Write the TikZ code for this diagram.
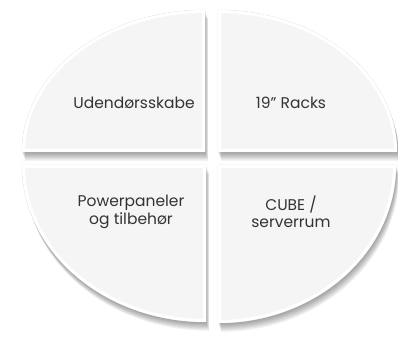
\documentclass[tikz,border=0pt]{standalone}
\usepackage{fontspec}
\setmainfont{Poppins}
\definecolor{pieceface}{HTML}{F5F5F5}
\definecolor{textgray}{HTML}{333333}
\begin{document}
\begin{tikzpicture}[x=1pt,y=1pt]
\tikzset{
  piece/.style={fill=pieceface, draw=gray!35, line width=0.4pt},
  rim/.style={draw=white, line width=6pt},
  shade/.style={fill=black, opacity=0.05},
  lbl/.style={text=textgray, font=\fontsize{15.5}{17.5}\selectfont, align=center, inner sep=0pt}
}
\def\pTL{(205,187) -- (22,187) arc[start angle=180,end angle=90,x radius=183,y radius=142] -- cycle}
\def\pTR{(218,187) -- (218,329) arc[start angle=90,end angle=0,x radius=179,y radius=142] -- cycle}
\def\pBL{(206,174) -- (22,174) arc[start angle=180,end angle=270,x radius=184,y radius=157] -- cycle}
\def\pBR{(218,174) -- (218,16) arc[start angle=270,end angle=360,x radius=178,y radius=158] -- cycle}
\fill[white] (0,0) rectangle (398,339);
\useasboundingbox (0,0) rectangle (398,339);
% soft shadows
\foreach \i in {1,...,8}{
  \fill[shade, shift={(0.4*\i,-1.1*\i)}] \pTL;
  \fill[shade, shift={(0.4*\i,-1.1*\i)}] \pTR;
  \fill[shade, shift={(0.4*\i,-1.1*\i)}] \pBL;
  \fill[shade, shift={(0.4*\i,-1.1*\i)}] \pBR;
}
% pieces
\foreach \p in {\pTL,\pTR,\pBL,\pBR}{
  \path[piece] \p;
  \begin{scope}
    \clip \p;
    \draw[rim] \p;
  \end{scope}
}
\node[lbl] (ud) at (134,236) {Udendørsskabe};
\node[lbl] (rk) at (291,236) {19" Racks};
\node[lbl] (pw) at (131,127) {Powerpaneler\\og tilbehør};
\node[lbl] (cb) at (291,127) {CUBE /\\serverrum};
\end{tikzpicture}
\end{document}
